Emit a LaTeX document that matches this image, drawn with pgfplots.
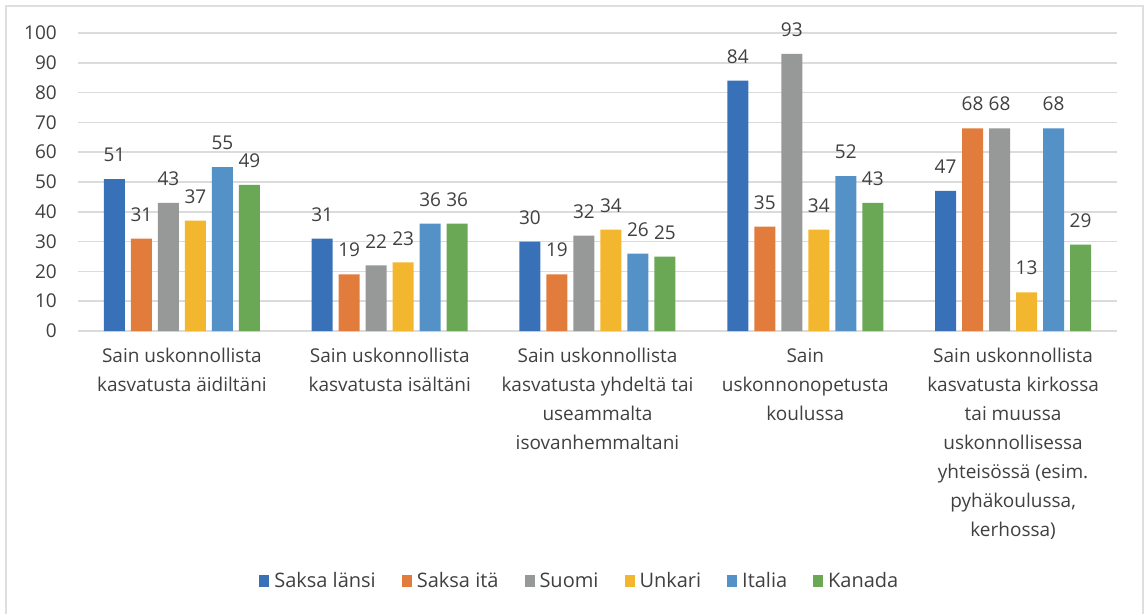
\documentclass[border=0pt]{standalone}
\usepackage{pgfplots}
\pgfplotsset{compat=1.18}
\usepackage{fontspec}
\setmainfont{Open Sans}
\definecolor{c1}{RGB}{56,113,183}
\definecolor{c2}{RGB}{226,124,60}
\definecolor{c3}{RGB}{151,153,153}
\definecolor{c4}{RGB}{242,183,46}
\definecolor{c5}{RGB}{83,145,199}
\definecolor{c6}{RGB}{106,168,85}
\definecolor{txt}{RGB}{64,64,64}
\begin{document}
\begin{tikzpicture}
\useasboundingbox (0pt,0pt) rectangle (1148pt,614pt);
\draw[gray!25, line width=1.5pt] (6pt,0pt) -- (6pt,608pt) -- (1143pt,608pt) -- (1143pt,0pt);
\begin{axis}[
  at={(78pt,283pt)}, anchor=south west,
  scale only axis, width=1039pt, height=298pt,
  xmin=-0.5, xmax=4.5, ymin=0, ymax=100,
  enlargelimits=false,
  ytick={0,10,...,100},
  xtick={0,...,4},
  xticklabels={{Sain uskonnollista\\kasvatusta äidiltäni},
               {Sain uskonnollista\\kasvatusta isältäni},
               {Sain uskonnollista\\kasvatusta yhdeltä tai\\useammalta\\isovanhemmaltani},
               {Sain\\uskonnonopetusta\\koulussa},
               {Sain uskonnollista\\kasvatusta kirkossa\\tai muussa\\uskonnollisessa\\yhteisössä (esim.\\pyhäkoulussa,\\kerhossa)}},
  /pgf/number format/assume math mode=true,
  ymajorgrids,
  grid style={line width=1.5pt, color=gray!28},
  axis line style={draw=none},
  major tick length=0pt,
  ybar=6pt, bar width=21pt,
  tick label style={font=\fontsize{19}{29}\selectfont, text=txt},
  yticklabel style={anchor=east, inner sep=0pt, xshift=-21pt},
  xticklabel style={align=center, anchor=north, inner sep=0pt, yshift=-17pt},
  nodes near coords,
  nodes near coords style={font=\fontsize{19}{23}\selectfont, text=txt, anchor=south, inner sep=0pt, yshift=17pt},
  legend image code/.code={\fill[#1] (0pt,-6pt) rectangle (10pt,6pt); \path (13pt,0pt);},
  legend style={at={(0.483,-0.839)}, anchor=center, draw=none, fill=none,
    font=\fontsize{20}{23}\selectfont, text=txt,
    /tikz/every even column/.append style={column sep=24pt},
    /tikz/every odd column/.append style={column sep=0pt}},
  legend columns=6,
  legend cell align=left,
]
\addplot[fill=c1, draw=none] coordinates {(0,51)(1,31)(2,30)(3,84)(4,47)};
\addplot[fill=c2, draw=none] coordinates {(0,31)(1,19)(2,19)(3,35)(4,68)};
\addplot[fill=c3, draw=none] coordinates {(0,43)(1,22)(2,32)(3,93)(4,68)};
\addplot[fill=c4, draw=none] coordinates {(0,37)(1,23)(2,34)(3,34)(4,13)};
\addplot[fill=c5, draw=none] coordinates {(0,55)(1,36)(2,26)(3,52)(4,68)};
\addplot[fill=c6, draw=none] coordinates {(0,49)(1,36)(2,25)(3,43)(4,29)};
\legend{Saksa länsi, Saksa itä, Suomi, Unkari, Italia, Kanada}
\end{axis}
\end{tikzpicture}
\end{document}
